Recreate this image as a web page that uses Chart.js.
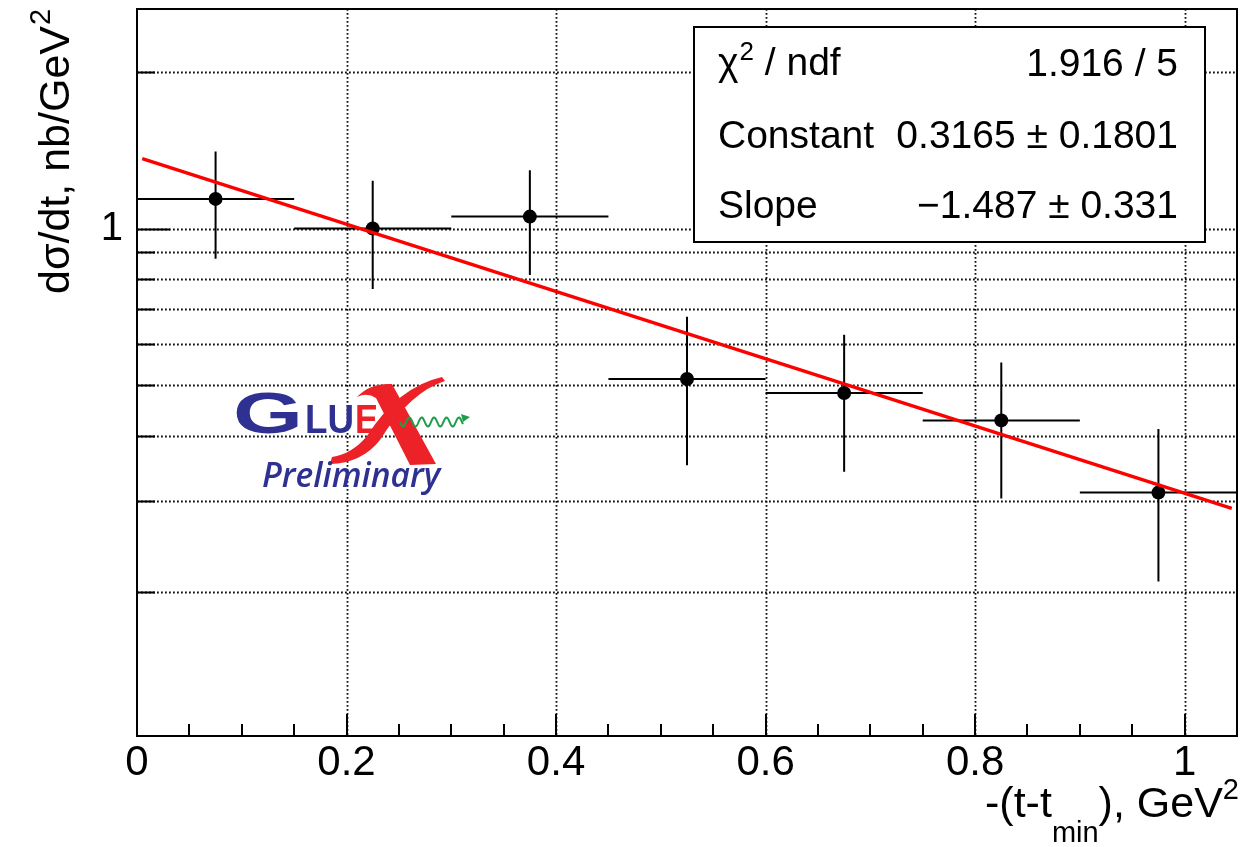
<!DOCTYPE html>
<html>
<head>
<meta charset="utf-8">
<script src="https://cdn.jsdelivr.net/npm/chart.js@4.4.1/dist/chart.umd.min.js"></script>
<style>
  html, body { margin: 0; padding: 0; background: #fff; }
  #wrap { width: 1244px; height: 847px; }
</style>
</head>
<body>
<div id="wrap"><canvas id="c" width="1244" height="847"></canvas></div>
<script>
// Measured cross section per -(t - t_min) bin
const binCenters    = [0.075, 0.225, 0.375, 0.525, 0.675, 0.825, 0.975];
const binHalfWidths = [0.075, 0.075, 0.075, 0.075, 0.075, 0.075, 0.075];
const dsdtValues    = [1.14, 1.00, 1.054, 0.514, 0.483, 0.428, 0.311];
const dsdtErrors    = [0.265, 0.235, 0.24, 0.163, 0.142, 0.125, 0.101];

// Axis ticks
const xTickValues = [0, 0.2, 0.4, 0.6, 0.8, 1.0];
const xTickLabels = ['0', '0.2', '0.4', '0.6', '0.8', '1'];
const xMinorStep  = 0.05;
const yTickValues = [0.2, 0.3, 0.4, 0.5, 0.6, 0.7, 0.8, 0.9, 1, 2];
const yMajorValues = [1];

// Exponential fit: exp(Constant + Slope * x)
const fitConstant = 0.3165, fitConstantErr = 0.1801;
const fitSlope = -1.487, fitSlopeErr = 0.331;
const fitChi2 = 1.916, fitNdf = 5;
const fitRange = [0.005, 1.045];

const FONT = '"Liberation Sans", Arial, Helvetica, sans-serif';

const dataPoints = binCenters.map((x, i) => ({ x, y: dsdtValues[i] }));
const fitPoints = fitRange.map(x => ({ x, y: Math.exp(fitConstant + fitSlope * x) }));

const xMinorValues = [];
for (let i = 1; i * xMinorStep < 1.05 - 1e-9; i++) xMinorValues.push(+(i * xMinorStep).toFixed(2));

// Frame, dotted grid and inward ticks in the ROOT style
const rootFrame = {
  id: 'rootFrame',
  beforeDatasetsDraw(chart) {
    const { ctx, chartArea: a, scales: { x, y } } = chart;
    ctx.save();
    ctx.strokeStyle = '#111';
    ctx.lineWidth = 1.8;
    ctx.setLineDash([1.8, 2.2]);
    ctx.beginPath();
    xTickValues.forEach(v => {
      const px = Math.round(x.getPixelForValue(v)) + 0.5;
      if (px > a.left + 3 && px < a.right - 3) { ctx.moveTo(px, a.top); ctx.lineTo(px, a.bottom); }
    });
    yTickValues.forEach(v => {
      const py = Math.round(y.getPixelForValue(v)) + 0.5;
      ctx.moveTo(a.left, py); ctx.lineTo(a.right, py);
    });
    ctx.stroke();
    ctx.setLineDash([]);

    ctx.strokeStyle = '#000';
    ctx.lineWidth = 2;
    ctx.beginPath();
    xMinorValues.forEach(v => {
      const px = Math.round(x.getPixelForValue(v));
      const len = xTickValues.some(t => Math.abs(t - v) < 1e-6) ? 22 : 12;
      ctx.moveTo(px, a.bottom); ctx.lineTo(px, a.bottom - len);
    });
    yTickValues.forEach(v => {
      const py = Math.round(y.getPixelForValue(v)) + 0.5;
      const len = yMajorValues.includes(v) ? 33 : 18;
      ctx.moveTo(a.left, py); ctx.lineTo(a.left + len, py);
    });
    ctx.stroke();
    ctx.lineWidth = 2;
    ctx.strokeRect(a.left, a.top, a.right - a.left, a.bottom - a.top);
    ctx.restore();
  }
};

// Horizontal (bin width) and vertical (uncertainty) error bars
const errorBars = {
  id: 'errorBars',
  beforeDatasetDraw(chart, args) {
    if (args.index !== 1) return;
    const { ctx, chartArea: a, scales: { x, y } } = chart;
    ctx.save();
    ctx.beginPath();
    ctx.rect(a.left, a.top, a.right - a.left, a.bottom - a.top);
    ctx.clip();
    ctx.strokeStyle = '#000';
    ctx.lineWidth = 2;
    ctx.beginPath();
    binCenters.forEach((c, i) => {
      const px = x.getPixelForValue(c);
      const py = y.getPixelForValue(dsdtValues[i]);
      ctx.moveTo(x.getPixelForValue(c - binHalfWidths[i]), py);
      ctx.lineTo(x.getPixelForValue(c + binHalfWidths[i]), py);
      ctx.moveTo(px, y.getPixelForValue(dsdtValues[i] + dsdtErrors[i]));
      ctx.lineTo(px, y.getPixelForValue(dsdtValues[i] - dsdtErrors[i]));
    });
    ctx.stroke();
    ctx.restore();
  }
};

function drawLogo(ctx) {
  const blue = '#2e3192', red = '#ed2228', green = '#1f9d48';
  ctx.save();
  ctx.textBaseline = 'alphabetic';
  ctx.textAlign = 'left';

  function stretched(text, font, color, x, base, width) {
    ctx.font = font;
    ctx.fillStyle = color;
    const w = ctx.measureText(text).width;
    ctx.save();
    ctx.translate(x, base);
    ctx.scale(width / w, 1);
    ctx.fillText(text, 0, 0);
    ctx.restore();
  }
  stretched('G', 'bold 57px ' + FONT, blue, 233, 433, 70);
  stretched('LU', 'bold 41px ' + FONT, blue, 305, 433, 49);
  stretched('E', 'bold 41px ' + FONT, red, 355, 433, 23);

  // brush-stroke X
  ctx.fillStyle = red;
  ctx.beginPath();
  ctx.moveTo(357, 397);
  ctx.quadraticCurveTo(370, 383, 392, 384);
  ctx.lineTo(436, 464);
  ctx.lineTo(410, 465);
  ctx.lineTo(376, 398);
  ctx.quadraticCurveTo(367, 392, 357, 397);
  ctx.closePath();
  ctx.fill();

  ctx.beginPath();
  ctx.moveTo(445, 381);
  ctx.quadraticCurveTo(410, 392, 380, 440);
  ctx.quadraticCurveTo(362, 463, 330, 464);
  ctx.lineTo(332, 457);
  ctx.quadraticCurveTo(352, 454, 367, 436);
  ctx.quadraticCurveTo(398, 387, 442, 377);
  ctx.closePath();
  ctx.fill();

  // wavy photon line with arrow
  ctx.strokeStyle = green;
  ctx.fillStyle = green;
  ctx.lineWidth = 2;
  ctx.beginPath();
  for (let px = 400; px <= 463; px += 0.5) {
    const py = 422 + 4.5 * Math.sin((px - 400) / 12.4 * 2 * Math.PI);
    if (px === 400) ctx.moveTo(px, py); else ctx.lineTo(px, py);
  }
  ctx.stroke();
  ctx.beginPath();
  ctx.moveTo(470, 417);
  ctx.lineTo(461, 414);
  ctx.lineTo(463, 422);
  ctx.closePath();
  ctx.fill();

  // Preliminary
  ctx.fillStyle = blue;
  ctx.font = 'italic 600 26px "Open Sans", sans-serif';
  const w = ctx.measureText('Preliminary').width;
  const size = 26 * 178 / w;
  ctx.font = 'italic 600 ' + size.toFixed(1) + 'px "Open Sans", sans-serif';
  ctx.fillText('Preliminary', 262, 487);
  ctx.restore();
}

function drawStatsBox(ctx) {
  const left = 694, top = 27, right = 1205, bottom = 242;
  ctx.save();
  ctx.fillStyle = '#fff';
  ctx.fillRect(left, top, right - left, bottom - top);
  ctx.strokeStyle = '#000';
  ctx.lineWidth = 2;
  ctx.strokeRect(left, top, right - left, bottom - top);

  ctx.fillStyle = '#000';
  ctx.textBaseline = 'alphabetic';
  const tx = 718, vx = 1178;
  const f = '39px ' + FONT, fs = '26px ' + FONT;

  // row 1: chi2 / ndf
  ctx.textAlign = 'left';
  ctx.font = f;
  ctx.fillText('\u03c7', tx, 75);
  let cx = tx + ctx.measureText('\u03c7').width + 1;
  ctx.font = fs;
  ctx.fillText('2', cx, 60);
  cx += ctx.measureText('2').width;
  ctx.font = f;
  ctx.fillText(' / ndf', cx, 75);
  ctx.textAlign = 'right';
  ctx.fillText(fitChi2.toFixed(3) + ' / ' + fitNdf, vx, 76);

  // row 2: Constant
  ctx.textAlign = 'left';
  ctx.fillText('Constant', tx, 148);
  ctx.textAlign = 'right';
  ctx.fillText(fitConstant.toFixed(4) + ' \u00b1 ' + fitConstantErr.toFixed(4), vx, 148);

  // row 3: Slope
  ctx.textAlign = 'left';
  ctx.fillText('Slope', tx, 218);
  ctx.textAlign = 'right';
  ctx.fillText('\u2212' + Math.abs(fitSlope).toFixed(3) + ' \u00b1 ' + fitSlopeErr.toFixed(3), vx, 218);
  ctx.restore();
}

function drawAxisTitles(ctx) {
  ctx.save();
  ctx.fillStyle = '#000';
  ctx.textBaseline = 'alphabetic';
  ctx.textAlign = 'left';
  const big = '43px ' + FONT, small = '29px ' + FONT;

  // x title, right aligned at the frame edge
  const parts = [
    { t: '-(t-t', f: big, dy: 0 },
    { t: 'min', f: small, dy: 25 },
    { t: '), GeV', f: big, dy: 0 },
    { t: '2', f: small, dy: -18 }
  ];
  let total = 0;
  parts.forEach(p => { ctx.font = p.f; p.w = ctx.measureText(p.t).width; total += p.w; });
  let x = 1239 - total;
  parts.forEach(p => { ctx.font = p.f; ctx.fillText(p.t, x, 817 + p.dy); x += p.w; });

  // y title, rotated
  ctx.translate(69, 294);
  ctx.rotate(-Math.PI / 2);
  ctx.font = big;
  const main = 'd\u03c3/dt, nb/GeV';
  ctx.fillText(main, 0, 0);
  const mw = ctx.measureText(main).width;
  ctx.font = small;
  ctx.fillText('2', mw + 1, -19);
  ctx.restore();
}

const annotations = {
  id: 'annotations',
  beforeDatasetsDraw(chart) {
    drawLogo(chart.ctx);
  },
  afterDatasetsDraw(chart) {
    drawStatsBox(chart.ctx);
  },
  afterDraw(chart) {
    drawAxisTitles(chart.ctx);
  }
};

new Chart(document.getElementById('c').getContext('2d'), {
  type: 'scatter',
  data: {
    datasets: [
      {
        label: 'expo fit',
        type: 'line',
        data: fitPoints,
        borderColor: '#ff0000',
        borderWidth: 3.5,
        pointRadius: 0,
        showLine: true,
        tension: 0,
        fill: false,
        order: 0
      },
      {
        label: 'data',
        data: dataPoints,
        backgroundColor: '#000',
        borderColor: '#000',
        borderWidth: 0,
        pointRadius: 7,
        pointHoverRadius: 7,
        order: 1
      }
    ]
  },
  options: {
    responsive: false,
    animation: false,
    devicePixelRatio: 1,
    events: [],
    layout: { padding: { left: 0, top: 9, right: 3, bottom: 0 } },
    plugins: { legend: { display: false }, tooltip: { enabled: false } },
    scales: {
      x: {
        type: 'linear',
        min: 0,
        max: 1.05,
        grid: { display: false, drawTicks: false },
        border: { display: false },
        afterBuildTicks: s => { s.ticks = xTickValues.map(v => ({ value: v })); },
        afterFit: s => { s.height = 111; s.paddingLeft = 0; s.paddingRight = 0; },
        ticks: {
          font: { family: FONT, size: 42 },
          color: '#000',
          padding: 2,
          maxRotation: 0,
          autoSkip: false,
          callback: (v, i) => xTickLabels[i]
        }
      },
      y: {
        type: 'logarithmic',
        min: 0.106,
        max: 2.64,
        grid: { display: false, drawTicks: false },
        border: { display: false },
        afterBuildTicks: s => { s.ticks = yTickValues.map(v => ({ value: v })); },
        afterFit: s => { s.width = 137; s.paddingTop = 0; s.paddingBottom = 0; },
        ticks: {
          font: { family: FONT, size: 40 },
          color: '#000',
          padding: 14,
          autoSkip: false,
          callback: v => (yMajorValues.includes(v) ? String(v) : '')
        }
      }
    }
  },
  plugins: [rootFrame, errorBars, annotations]
});
</script>
</body>
</html>
